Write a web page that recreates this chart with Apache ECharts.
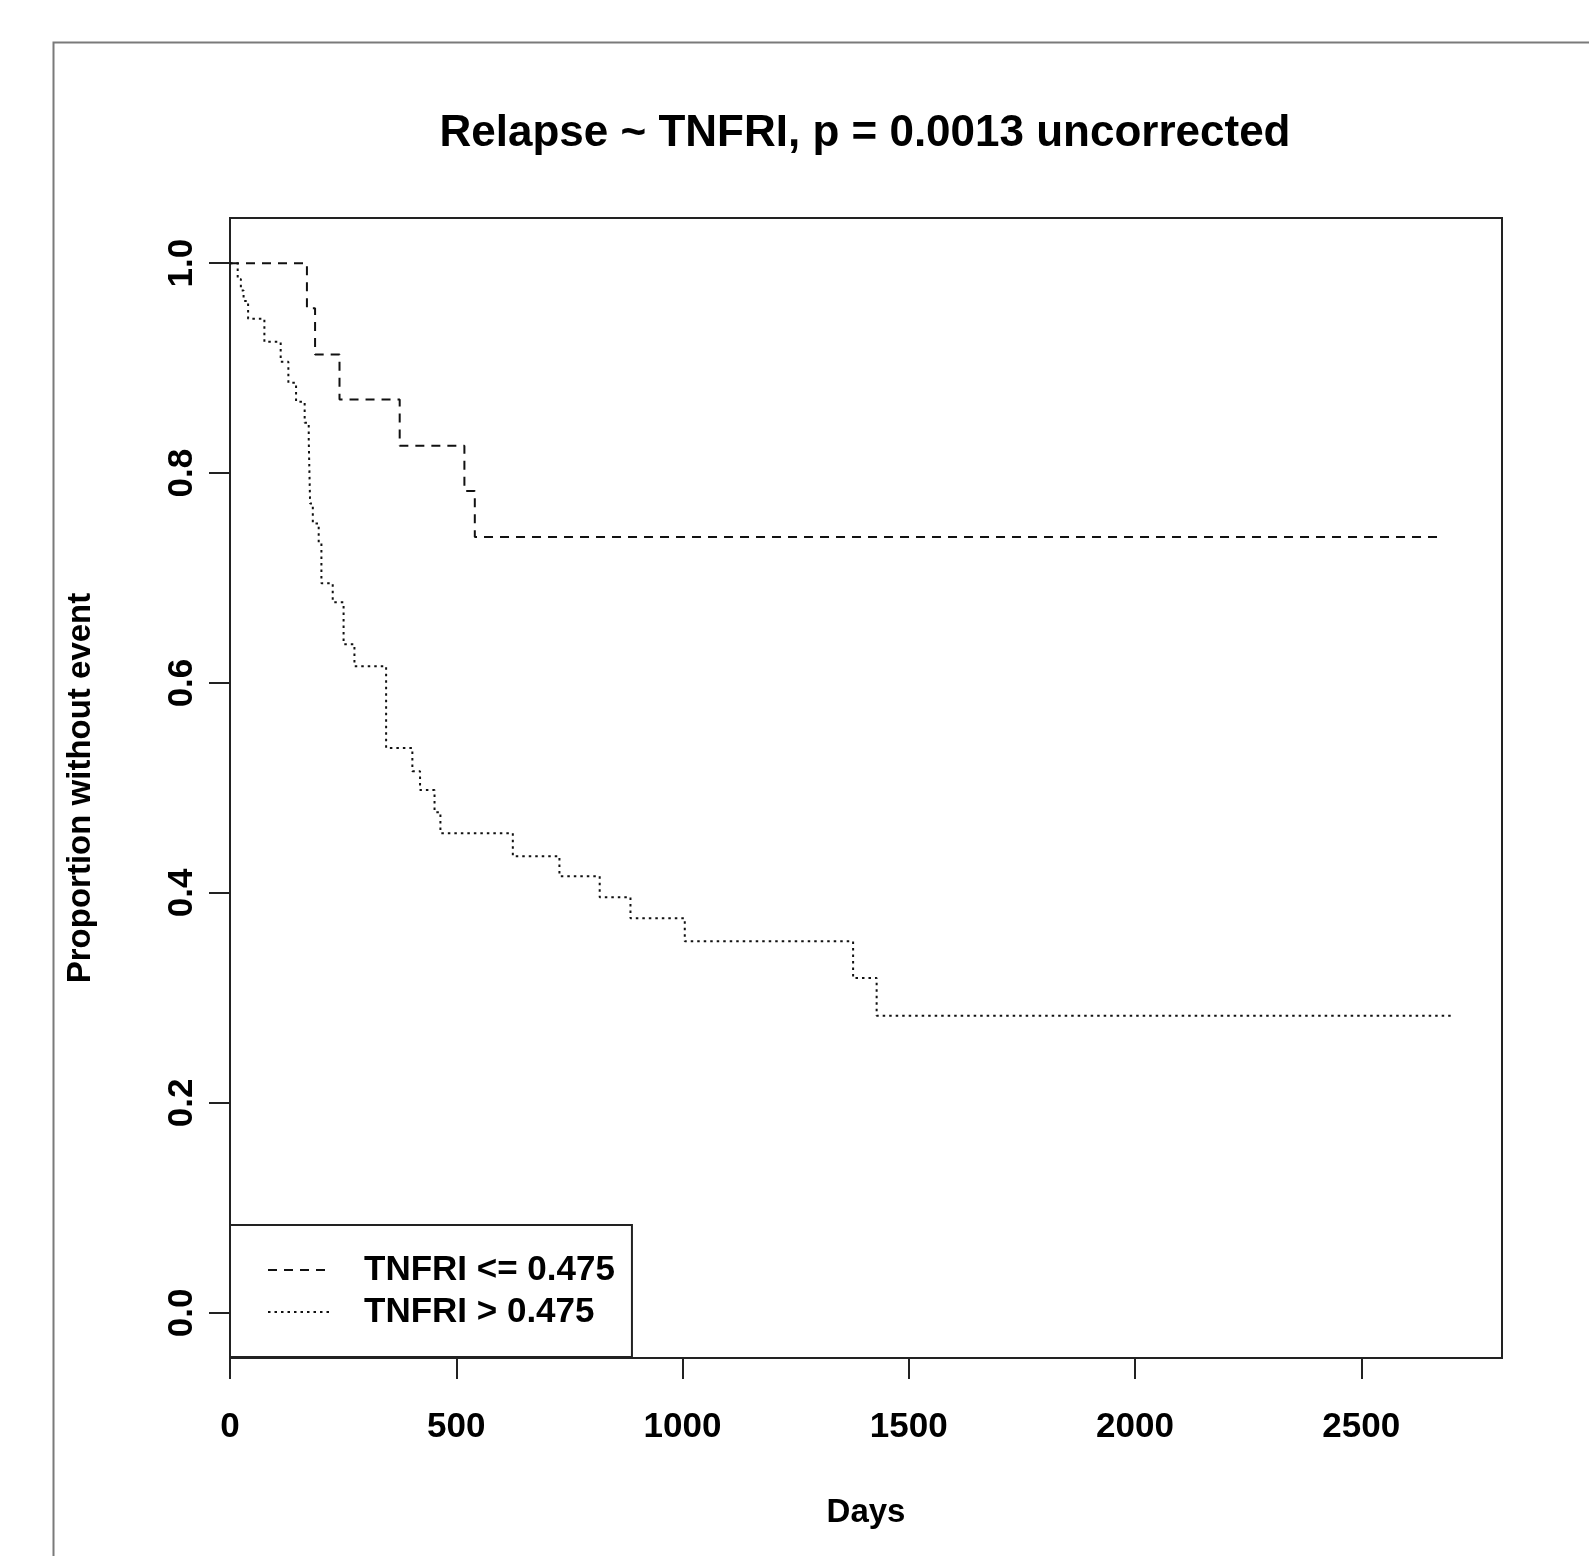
<!DOCTYPE html>
<html>
<head>
<meta charset="utf-8">
<title>Relapse ~ TNFRI</title>
<script src="https://cdn.jsdelivr.net/npm/echarts@6.0.0/dist/echarts.min.js"></script>
<style>
html,body{margin:0;padding:0;background:#fff;}
#chart{width:1589px;height:1556px;}
</style>
</head>
<body>
<div id="chart"></div>
<script>
// KM curves
var lowTimes = [0, 170, 188, 242, 375, 518, 541, 2668];
var lowSurv = [1.0, 0.957, 0.913, 0.870, 0.826, 0.783, 0.739, 0.739];

var highTimes = [0, 17, 24, 30, 40, 76, 112, 129, 146, 165, 174, 177, 183, 196, 202, 227, 251, 275, 345, 403,
	420, 452, 465, 625, 728, 817, 885, 1005, 1377, 1429, 2700];
var highSurv = [1.0, 0.985, 0.974, 0.964, 0.947, 0.925, 0.906, 0.886, 0.868, 0.848, 0.832, 0.771, 0.752, 0.733, 0.695, 0.677, 0.637, 0.616, 0.538, 0.516,
	0.498, 0.477, 0.457, 0.435, 0.416, 0.396, 0.376, 0.354, 0.319, 0.283, 0.283];

var groupNames = ['TNFRI <= 0.475', 'TNFRI > 0.475'];
var xTicks = [0, 500, 1000, 1500, 2000, 2500];
var yTicks = [0, 0.2, 0.4, 0.6, 0.8, 1.0];

var fontFamily = "'Liberation Sans', Arial, sans-serif";

function toPairs(xs, ys){
	var out = [];
	for (var i = 0; i < xs.length; i++) {
		out.push([xs[i], ys[i]]);
	}
	return out;
}

var chart = echarts.init(document.getElementById('chart'), null, {renderer: 'canvas'});
var option = {
	backgroundColor: '#fff',
	animation: false,
	title: {
		text: 'Relapse ~ TNFRI, p = 0.0013 uncorrected',
		left: 860,
		top: 107,
		textAlign: 'center',
		textStyle: {fontFamily: fontFamily, fontSize: 44, fontWeight: 'bold', color: '#000'}
	},
	graphic: [{
		// outer frame of the figure
		type: 'rect',
		left: 51, top: 40,
		shape: {width: 1700, height: 1700},
		style: {fill: 'none', stroke: '#7a7a7a', lineWidth: 2},
		silent: true
	}],
	legend: {
		orient: 'vertical',
		left: 230,
		top: 1225,
		padding: [27, 17, 27, 37],
		itemWidth: 63,
		itemHeight: 20,
		itemGap: 6,
		backgroundColor: '#fff',
		borderColor: '#222',
		borderWidth: 2,
		borderRadius: 0,
		itemStyle: {opacity: 0},//只留线型,不要圆点
		textStyle: {fontFamily: fontFamily, fontSize: 35, fontWeight: 'bold', color: '#000', lineHeight: 36, padding: [0, 0, 0, 28]},
		data: groupNames
	},
	grid: {left: 230, top: 218, right: 87, bottom: 198, show: true, borderColor: '#222', borderWidth: 2, containLabel: false},
	xAxis: {
		type: 'value',
		min: 0, max: 2811,
		name: 'Days',
		nameLocation: 'middle',
		nameGap: 138,
		nameTextStyle: {fontFamily: fontFamily, fontSize: 33, fontWeight: 'bold', color: '#000'},
		axisLine: {show: false, onZero: false},
		axisTick: {show: true, inside: false, length: 21, customValues: xTicks, lineStyle: {color: '#222', width: 2}},
		axisLabel: {
			customValues: xTicks, margin: 52,
			fontFamily: fontFamily, fontSize: 35, fontWeight: 'bold', color: '#000',
			formatter: function(v){ return String(v); }
		},
		splitLine: {show: false}
	},
	yAxis: {
		type: 'value',
		min: -0.043, max: 1.043,
		name: 'Proportion without event',
		nameLocation: 'middle',
		nameRotate: 90,
		nameGap: 133,
		nameTextStyle: {fontFamily: fontFamily, fontSize: 33, fontWeight: 'bold', color: '#000'},
		axisLine: {show: false, onZero: false},
		axisTick: {show: true, inside: false, length: 21, customValues: yTicks, lineStyle: {color: '#222', width: 2}},
		axisLabel: {
			customValues: yTicks, rotate: 90, margin: 30,
			fontFamily: fontFamily, fontSize: 35, fontWeight: 'bold', color: '#000',
			formatter: function(v){ return v.toFixed(1); }
		},
		splitLine: {show: false}
	},
	series: [{
		name: groupNames[0],
		type: 'line',
		step: 'end',
		symbol: 'none',
		data: toPairs(lowTimes, lowSurv),
		lineStyle: {color: '#111', width: 2, type: [9, 7]},
		itemStyle: {color: '#111'}
	}, {
		name: groupNames[1],
		type: 'line',
		step: 'end',
		symbol: 'none',
		data: toPairs(highTimes, highSurv),
		lineStyle: {color: '#111', width: 2, type: [2.5, 4]},
		itemStyle: {color: '#111'}
	}]
};
chart.setOption(option);
</script>
</body>
</html>
